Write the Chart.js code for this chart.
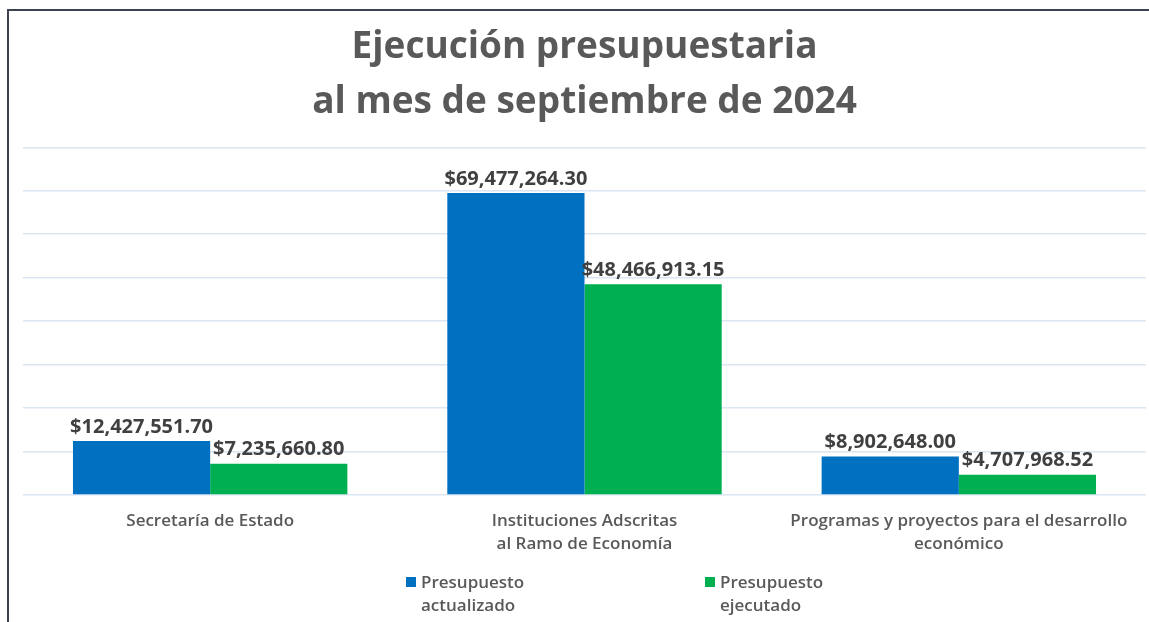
<!DOCTYPE html>
<html>
<head>
<meta charset="utf-8">
<style>
  html, body { margin: 0; padding: 0; background: #ffffff; }
  #wrap { width: 1149px; height: 622px; position: relative; }
</style>
<script src="https://cdn.jsdelivr.net/npm/chart.js@4.4.1/dist/chart.umd.min.js"></script>
</head>
<body>
<div id="wrap"><canvas id="myChart" width="1149" height="622"></canvas></div>
<script>
// categories (multi-line labels as in the original)
var categories = [
  "Secretaría de Estado",
  ["Instituciones Adscritas", "al Ramo de Economía"],
  ["Programas y proyectos para el desarrollo", "económico"]
];
var actualizado = [12427551.70, 69477264.30, 8902648.00];
var ejecutado = [7235660.80, 48466913.15, 4707968.52];
var seriesNames = [["Presupuesto", "actualizado"], ["Presupuesto", "ejecutado"]];
var seriesColors = ["#0070c0", "#00b050"];
var titleLines = ["Ejecución presupuestaria", "al mes de septiembre de 2024"];

var FONT = "'Open Sans', 'DejaVu Sans', sans-serif";
var GRAY = "#595959";

function money(v) {
  return "$" + v.toLocaleString("en-US", {minimumFractionDigits: 2, maximumFractionDigits: 2});
}

// frame lines at top and left, like the cropped original
var framePlugin = {
  id: "frame",
  beforeDraw: function (chart) {
    var ctx = chart.ctx;
    ctx.save();
    ctx.strokeStyle = "#3d4250";
    ctx.lineWidth = 2;
    ctx.beginPath();
    ctx.moveTo(8, chart.height);
    ctx.lineTo(8, 10);
    ctx.lineTo(chart.width, 10);
    ctx.stroke();
    ctx.restore();
  }
};

// value labels above each bar
var valueLabels = {
  id: "valueLabels",
  afterDatasetsDraw: function (chart) {
    var ctx = chart.ctx;
    ctx.save();
    ctx.font = "bold 20px " + FONT;
    ctx.fillStyle = "#404040";
    ctx.textAlign = "center";
    ctx.textBaseline = "bottom";
    chart.data.datasets.forEach(function (ds, i) {
      chart.getDatasetMeta(i).data.forEach(function (bar, j) {
        ctx.fillText(money(ds.data[j]), bar.x, bar.y - 4);
      });
    });
    ctx.restore();
  }
};

// legend with two-line labels
var bottomLegend = {
  id: "bottomLegend",
  afterDraw: function (chart) {
    var ctx = chart.ctx;
    var xs = [406, 705];
    ctx.save();
    ctx.font = "600 17px " + FONT;
    ctx.textBaseline = "middle";
    ctx.textAlign = "left";
    chart.data.datasets.forEach(function (ds, i) {
      ctx.fillStyle = ds.backgroundColor;
      ctx.fillRect(xs[i], 577, 10, 10);
      ctx.fillStyle = GRAY;
      seriesNames[i].forEach(function (line, k) {
        ctx.fillText(line, xs[i] + 15, 583 + k * 23);
      });
    });
    ctx.restore();
  }
};

new Chart("myChart", {
  type: "bar",
  data: {
    labels: categories,
    datasets: [
      { label: "Presupuesto actualizado", data: actualizado, backgroundColor: seriesColors[0] },
      { label: "Presupuesto ejecutado", data: ejecutado, backgroundColor: seriesColors[1] }
    ]
  },
  options: {
    responsive: false,
    animation: false,
    layout: { padding: { left: 23, right: 3, top: 0, bottom: 59 } },
    datasets: { bar: { categoryPercentage: 0.733, barPercentage: 1.0 } },
    plugins: {
      legend: { display: false },
      tooltip: { enabled: false },
      title: {
        display: true,
        text: titleLines,
        color: GRAY,
        font: { family: FONT, size: 37, weight: "bold", lineHeight: 1.49 },
        padding: { top: 20, bottom: 17 }
      }
    },
    scales: {
      x: {
        grid: { display: false },
        border: { display: false },
        ticks: {
          color: GRAY,
          font: { family: FONT, size: 17, weight: "600", lineHeight: 1.35 },
          padding: 7,
          maxRotation: 0,
          autoSkip: false
        }
      },
      y: {
        min: 0,
        max: 80000000,
        grid: { color: "#dbe6f4", lineWidth: 1.5, drawTicks: false },
        border: { display: false },
        ticks: { display: false, stepSize: 10000000 }
      }
    }
  },
  plugins: [framePlugin, valueLabels, bottomLegend]
});
</script>
</body>
</html>
